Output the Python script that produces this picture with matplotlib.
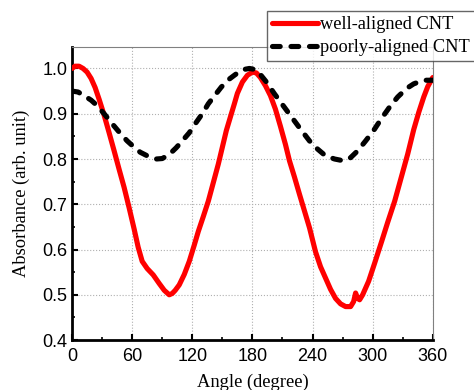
import matplotlib
matplotlib.use("Agg")
import matplotlib.pyplot as plt
from matplotlib.ticker import MultipleLocator

# well-aligned CNT (red, solid)
well_angle = [0, 3, 7, 11, 15, 19, 23, 27, 32, 37, 42, 47, 52, 57, 62, 66, 70,
              75, 81, 87, 92, 97, 100, 103, 107, 112, 117, 122, 126, 131, 136,
              141, 146, 150, 154, 159, 162, 165, 170, 175, 180, 184, 188, 193, 198,
              203, 208, 213, 217, 222, 227, 232, 237, 243, 248, 253, 258, 263, 268,
              273, 278, 281, 283, 285, 287, 290, 296, 302, 309, 315, 322, 328, 335,
              341, 346, 351, 355, 360]
well_abs = [1.0, 1.005, 1.005, 1.0, 0.992, 0.978, 0.958, 0.932, 0.897, 0.858, 0.818,
            0.777, 0.737, 0.692, 0.645, 0.605, 0.574, 0.558, 0.544, 0.525, 0.51,
            0.5, 0.503, 0.51, 0.522, 0.545, 0.574, 0.61, 0.64, 0.673, 0.707,
            0.748, 0.789, 0.826, 0.863, 0.9, 0.922, 0.945, 0.97, 0.985, 0.992,
            0.99, 0.98, 0.962, 0.94, 0.91, 0.872, 0.832, 0.796, 0.76, 0.722, 0.685,
            0.648, 0.595, 0.562, 0.537, 0.512, 0.492, 0.48, 0.474, 0.474, 0.485,
            0.504, 0.492, 0.489, 0.5, 0.53, 0.57, 0.618, 0.66, 0.707, 0.755, 0.811,
            0.865, 0.903, 0.937, 0.96, 0.98]

# poorly-aligned CNT (black, dashed)
poor_angle = [0, 6, 12, 19, 25, 32, 40, 48, 55, 62, 68, 76, 84, 90, 97, 104, 110,
              117, 123, 130, 136, 143, 149, 156, 162, 167, 172, 177, 182, 186, 194,
              202, 210, 219, 228, 237, 245, 253, 262, 271, 278, 285, 293, 301, 309,
              317, 325, 334, 341, 347, 353, 360]
poor_abs = [0.95, 0.948, 0.94, 0.93, 0.918, 0.9, 0.878, 0.857, 0.84, 0.826, 0.815,
            0.806, 0.8, 0.801, 0.81, 0.825, 0.84, 0.858, 0.878, 0.9, 0.922, 0.942,
            0.959, 0.975, 0.985, 0.993, 0.998, 1.0, 0.998, 0.992, 0.97, 0.944,
            0.92, 0.893, 0.866, 0.84, 0.822, 0.807, 0.8, 0.796, 0.803, 0.818, 0.84,
            0.863, 0.89, 0.915, 0.937, 0.956, 0.966, 0.971, 0.974, 0.974]

serif = "Liberation Serif"
sans = "Liberation Sans"

fig = plt.figure(figsize=(4.74, 3.9), dpi=100)
ax = fig.add_axes([0.152, 0.128, 0.761, 0.751])

l1, = ax.plot(well_angle, well_abs, color="#ff0000", lw=3.7, solid_capstyle="round",
              solid_joinstyle="round", label="well-aligned CNT", zorder=3)
l2, = ax.plot(poor_angle, poor_abs, color="black", lw=3.7, ls=(0, (1.5, 2.1)),
              dash_capstyle="round", label="poorly-aligned CNT", zorder=4)

ax.set_xlim(0, 360)
ax.set_ylim(0.4, 1.047)
ax.xaxis.set_major_locator(MultipleLocator(60))
ax.xaxis.set_minor_locator(MultipleLocator(30))
ax.yaxis.set_minor_locator(MultipleLocator(0.05))
ax.set_yticks([0.4, 0.5, 0.6, 0.7, 0.8, 0.9, 1.0])
ax.set_yticklabels(["0.4", "0.5", "0.6", "0.7", "0.8", "0.9", "1.0"])

ax.grid(True, which="major", color="#b0b0b0", ls=":", lw=0.8)
ax.tick_params(which="both", direction="in", labelsize=13, colors="black",
               top=False, right=False)
ax.tick_params(which="major", length=4, width=1.5)
ax.tick_params(which="minor", length=2.5, width=1.2)
ax.tick_params(axis="y", which="major", pad=3.5)
ax.tick_params(axis="x", which="major", pad=6)
for lab in ax.get_xticklabels() + ax.get_yticklabels():
    lab.set_fontfamily(sans)

for side in ["left", "bottom"]:
    ax.spines[side].set_linewidth(2)
    ax.spines[side].set_color("black")
for side in ["top", "right"]:
    ax.spines[side].set_linewidth(0.8)
    ax.spines[side].set_color("#808080")

ax.set_xlabel("Angle (degree)", fontfamily=serif, fontsize=13.3, labelpad=6)
ax.set_ylabel("Absorbance (arb. unit)", fontfamily=serif, fontsize=13.3, labelpad=9)

leg = fig.legend(handles=[l1, l2], loc="upper left",
                 bbox_to_anchor=(0.563, 0.972), prop={"family": serif, "size": 13.2},
                 frameon=True, fancybox=False, handlelength=2.5, handletextpad=0.1,
                 borderpad=0.3, labelspacing=0.3, borderaxespad=0)
leg.get_frame().set_edgecolor("#404040")
leg.get_frame().set_linewidth(1.0)

fig.savefig("out.png", dpi=100)
